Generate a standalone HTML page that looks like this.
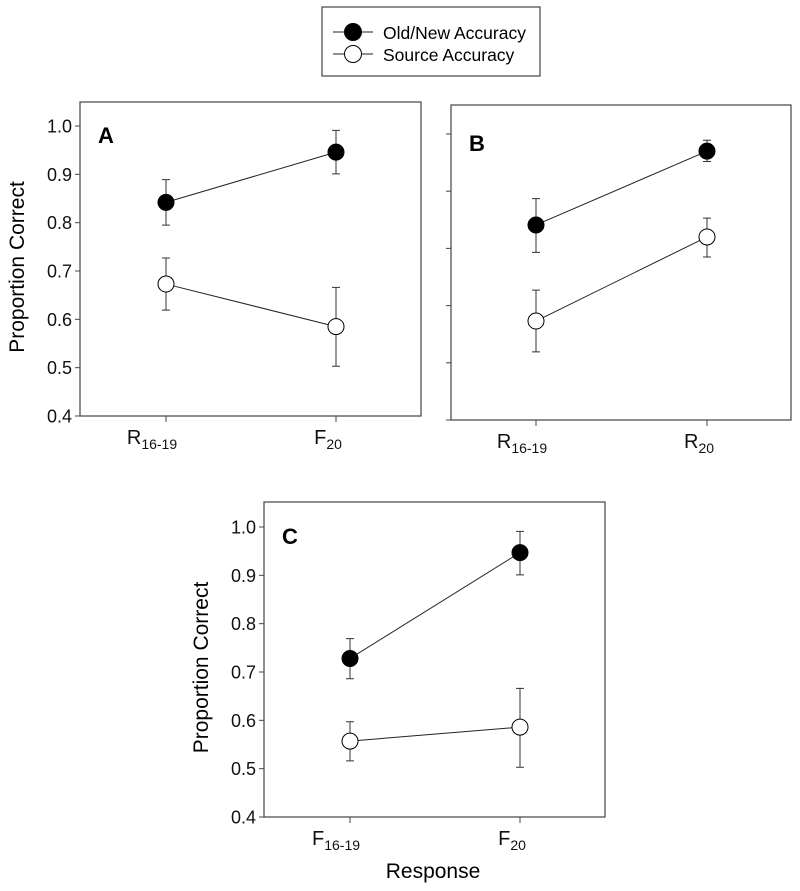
<!DOCTYPE html>
<html><head><meta charset="utf-8"><style>
body{margin:0;background:#fff;}
svg{display:block;font-family:"Liberation Sans",Arial,sans-serif;}
</style></head><body>
<svg id="fig" width="800" height="891" viewBox="0 0 800 891">
<g>
<rect x="322" y="7" width="218" height="69" fill="#fff" stroke="#444" stroke-width="1.2"/>
<line x1="333" y1="32" x2="373" y2="32" stroke="#222"/>
<circle cx="353" cy="32" r="8.5" fill="#000" stroke="#000"/>
<text x="383" y="39" font-size="17.5">Old/New Accuracy</text>
<line x1="333" y1="54" x2="373" y2="54" stroke="#222"/>
<circle cx="353" cy="54" r="8.5" fill="#fff" stroke="#000"/>
<text x="383" y="61" font-size="17.5">Source Accuracy</text>
</g>
</svg>
<script>
const yTicks=[0.4,0.5,0.6,0.7,0.8,0.9,1.0];
const yTicksB=[0.5,0.6,0.7,0.8,0.9,1.0];
const catsA=["R","F"], subsA=["16-19","20"];
const catsB=["R","R"], subsB=["16-19","20"];
const catsC=["F","F"], subsC=["16-19","20"];
const oldA=[0.842,0.946], oldAErrHi=[0.889,0.991], oldAErrLo=[0.795,0.901];
const srcA=[0.673,0.585], srcAErrHi=[0.727,0.666], srcAErrLo=[0.619,0.503];
const oldB=[0.841,0.970], oldBErrHi=[0.887,0.989], oldBErrLo=[0.793,0.952];
const srcB=[0.673,0.820], srcBErrHi=[0.727,0.853], srcBErrLo=[0.619,0.785];
const oldC=[0.728,0.947], oldCErrHi=[0.769,0.991], oldCErrLo=[0.686,0.901];
const srcC=[0.557,0.586], srcCErrHi=[0.597,0.666], srcCErrLo=[0.516,0.503];

const svg=document.getElementById('fig');
const NS="http://www.w3.org/2000/svg";
function mk(tag,attrs,parent){const e=document.createElementNS(NS,tag);for(const k in attrs)e.setAttribute(k,attrs[k]);(parent||svg).appendChild(e);return e;}

function panel(p){
  const g=mk('g',{});
  
  
  const y=v=>p.y0+(v-p.vmin)/(1.0-p.vmin)*(p.y1-p.y0);
  const x=i=>p.xs[i];
  const frame=mk('rect',{x:p.left,y:p.top,width:p.right-p.left,height:p.y0-p.top,fill:'none',stroke:'#444','stroke-width':1.2},g);
  
  
  p.ticks.forEach(t=>{
    const tk=mk('line',{x1:p.left-5,x2:p.left,y1:y(t),y2:y(t),stroke:'#444'},g);
    
    
    if(p.labels){
      const tx=mk('text',{x:p.left-8,y:y(t)+6.5,'font-size':18,'text-anchor':'end',fill:'#111'},g);
      tx.textContent=t.toFixed(1);
      
      
    }
  });
  p.cats.forEach((c,i)=>{
    const tk=mk('line',{x1:x(i),x2:x(i),y1:p.y0,y2:p.y0+6,stroke:'#444'},g);
    
    
    const tx=mk('text',{x:x(i)-(p.subs[i].length>2?14:8),y:p.y0+28,'font-size':20,'text-anchor':'middle',fill:'#111'},g);
    
    
    tx.appendChild(document.createTextNode(c));
    const s=document.createElementNS(NS,'tspan');s.setAttribute('font-size','14');s.setAttribute('dy','5');s.textContent=p.subs[i];tx.appendChild(s);
  });
  if(p.labels){
    const cy=(p.y0+p.top)/2+8;
    const yl=mk('text',{x:0,y:0,'font-size':21,'text-anchor':'middle',transform:`translate(${p.left-56},${cy}) rotate(-90)`},g);
    yl.textContent='Proportion Correct';
    
    
  }
  const lt=mk('text',{x:p.left+18,y:p.y1+17,'font-size':22,'font-weight':'bold'},g);
  lt.textContent=p.id;
  
  
  p.series.forEach(s=>{
    const ln=mk('line',{x1:x(0),y1:y(s.v[0]),x2:x(1),y2:y(s.v[1]),stroke:'#222','stroke-width':1},g);
    
    
    s.v.forEach((v,i)=>{
      const eb=mk('path',{d:`M${x(i)},${y(s.hi[i])}V${y(s.lo[i])}M${x(i)-4},${y(s.hi[i])}H${x(i)+4}M${x(i)-4},${y(s.lo[i])}H${x(i)+4}`,stroke:'#333',fill:'none'},g);
      
      
      const c=mk('circle',{cx:x(i),cy:y(v),r:8,fill:s.fill,stroke:'#000','stroke-width':1},g);
      
      
    });
  });
}
panel({id:'A',left:80,right:421,top:102,y0:416,y1:126,vmin:0.4,ticks:yTicks,xs:[166,336],cats:catsA,subs:subsA,labels:true,
  series:[{name:'old-new',v:oldA,hi:oldAErrHi,lo:oldAErrLo,fill:'#000'},{name:'source',v:srcA,hi:srcAErrHi,lo:srcAErrLo,fill:'#fff'}]});
panel({id:'B',left:451,right:791,top:105,y0:420,y1:134,vmin:0.5,ticks:yTicksB,xs:[536,707],cats:catsB,subs:subsB,labels:false,
  series:[{name:'old-new',v:oldB,hi:oldBErrHi,lo:oldBErrLo,fill:'#000'},{name:'source',v:srcB,hi:srcBErrHi,lo:srcBErrLo,fill:'#fff'}]});
panel({id:'C',left:264,right:605,top:502,y0:817,y1:527,vmin:0.4,ticks:yTicks,xs:[350,520],cats:catsC,subs:subsC,labels:true,
  series:[{name:'old-new',v:oldC,hi:oldCErrHi,lo:oldCErrLo,fill:'#000'},{name:'source',v:srcC,hi:srcCErrHi,lo:srcCErrLo,fill:'#fff'}]});
const xt=mk('text',{x:433,y:878,'font-size':21,'text-anchor':'middle'});
xt.textContent='Response';


</script>
</body></html>
